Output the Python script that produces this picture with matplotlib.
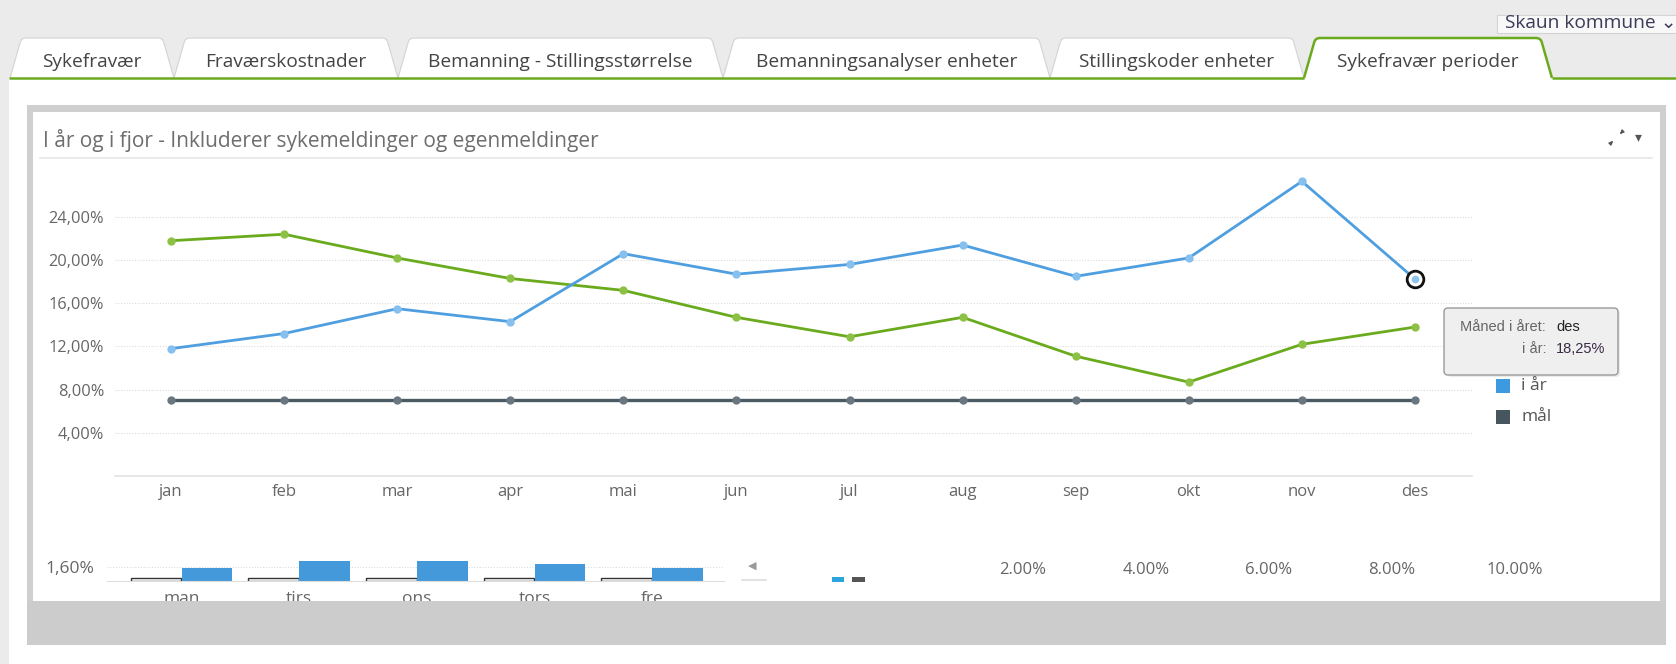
import numpy as np
import matplotlib
matplotlib.use("Agg")
import matplotlib.pyplot as plt
from matplotlib.patches import Rectangle, FancyBboxPatch, PathPatch
from matplotlib.path import Path

plt.rcParams["font.family"] = ["Open Sans", "DejaVu Sans"]

W, H = 1676, 664

# data
months = ["jan", "feb", "mar", "apr", "mai", "jun", "jul", "aug", "sep", "okt", "nov", "des"]
i_aar = [11.8, 13.2, 15.5, 14.3, 20.6, 18.7, 19.6, 21.4, 18.5, 20.2, 27.3, 18.25]
i_fjor = [21.8, 22.4, 20.2, 18.3, 17.2, 14.7, 12.9, 14.7, 11.1, 8.7, 12.2, 13.8]
maal = [7.0, 7.0, 7.0, 7.0, 7.0, 7.0, 7.0, 7.0, 7.0, 7.0, 7.0, 7.0]
y_ticks = [4, 8, 12, 16, 20, 24]

days = ["man", "tirs", "ons", "tors", "fre"]
days_fjor = [0.3, 0.3, 0.3, 0.3, 0.3]
days_aar = [1.48, 2.3, 2.3, 2.0, 1.48]
day_ticks = [1.6]

dist_ticks = [2, 4, 6, 8, 10]

tabs = ["Sykefravær", "Fraværskostnader", "Bemanning - Stillingsstørrelse",
        "Bemanningsanalyser enheter", "Stillingskoder enheter", "Sykefravær perioder"]
tab_edges = [10, 174, 398, 723, 1050, 1304, 1552]

BLUE = "#4f9fe0"
GREEN = "#6aab1e"
SLATE = "#4b5a63"
GREY_TXT = "#666666"


def pct(v, dec=","):
    return f"{v:.2f}%".replace(".", dec)


def px_axes(x0, y0, x1, y1, **kw):
    return fig.add_axes([x0 / W, 1 - y1 / H, (x1 - x0) / W, (y1 - y0) / H], **kw)


def tab_path(xl, xr, top=38, bot=78, s=11, r=5):
    verts = [(xl, bot), (xl + s - 1, top + r), (xl + s, top), (xl + s + r, top),
             (xr - s - r, top), (xr - s, top), (xr - s + 1, top + r), (xr, bot)]
    codes = [Path.MOVETO, Path.LINETO, Path.CURVE3, Path.CURVE3,
             Path.LINETO, Path.CURVE3, Path.CURVE3, Path.LINETO]
    return Path(verts, codes)


fig = plt.figure(figsize=(W / 100, H / 100), dpi=100)

# ---- page background, tabs, card
bg = px_axes(0, 0, W, H, zorder=-1)
bg.set_xlim(0, W)
bg.set_ylim(H, 0)
bg.axis("off")
bg.add_patch(Rectangle((0, 0), W, H, fc="white", ec="none"))
bg.add_patch(Rectangle((0, 0), W, 78, fc="#ebebeb", ec="none"))
bg.add_patch(Rectangle((0, 78), 9, H - 78, fc="#ebebeb", ec="none"))

# dropdown at the top right, its text cut at the top
box = Rectangle((1497, 15), 180, 18, fc="#f8f8f8", ec="#d4d4d4", lw=0.8)
bg.add_patch(box)
t = bg.text(1505, 28, "Skaun kommune \u2304", fontsize=13.8, color="#3b3b5a",
            va="baseline", clip_on=True)
t.set_clip_path(box)

for i, name in enumerate(tabs):
    xl, xr = tab_edges[i], tab_edges[i + 1]
    active = i == len(tabs) - 1
    bg.add_patch(PathPatch(tab_path(xl, xr), fc="white",
                           ec=GREEN if active else "#d6d6d6",
                           lw=1.8 if active else 0.9, zorder=3 if active else 2))
    bg.text((xl + xr) / 2, 62, name, fontsize=13.8, color="#444444",
            ha="center", va="center", zorder=4)
bg.plot([9, tab_edges[-2]], [78, 78], color=GREEN, lw=1.8, zorder=3, solid_capstyle="butt")
bg.plot([tab_edges[-1], W], [78, 78], color=GREEN, lw=1.8, zorder=3, solid_capstyle="butt")

bg.add_patch(Rectangle((27, 105), 1639, 540, fc="#cfcfcf", ec="none"))
bg.add_patch(Rectangle((33, 112), 1627, 489, fc="white", ec="none"))
bg.text(43, 141, "I år og i fjor - Inkluderer sykemeldinger og egenmeldinger",
        fontsize=15, color="#6e6e6e", va="center")
bg.plot([40, 1652], [158, 158], color="#e6e6e6", lw=1.2)
bg.annotate("", xy=(1615, 139), xytext=(1609, 145),
            arrowprops=dict(arrowstyle="-|>", color="#555555", lw=1, mutation_scale=5))
bg.annotate("", xy=(1618, 136), xytext=(1624, 130),
            arrowprops=dict(arrowstyle="-|>", color="#555555", lw=1, mutation_scale=5))
bg.text(1638, 138, "\u25be", fontsize=10, color="#555555", ha="center", va="center")

# ---- main line chart
ax = px_axes(114.5, 163, 1471.5, 476)
x = np.arange(len(months))
ax.plot(x, maal, color=SLATE, lw=2.4, marker="o", ms=6, mfc="#6b7780", mec="none", zorder=3)
ax.plot(x, i_fjor, color=GREEN, lw=2.0, marker="o", ms=6, mfc="#8cc145", mec="none", zorder=3)
ax.plot(x, i_aar, color=BLUE, lw=2.0, marker="o", ms=6, mfc="#86c0ee", mec="none", zorder=4)
ax.plot(x[-1], i_aar[-1], "o", ms=12, mfc="white", mec="#111111", mew=2.0, zorder=5)
ax.plot(x[-1], i_aar[-1], "o", ms=5.5, mfc="#8cc4ee", mec="none", zorder=6)
ax.set_xlim(-0.5, 11.5)
ax.set_ylim(0, 29)
ax.set_xticks(x)
ax.set_xticklabels(months)
ax.set_yticks(y_ticks)
ax.set_yticklabels([pct(v) for v in y_ticks])
ax.grid(axis="y", color="#dcdcdc", lw=0.8, ls=(0, (1, 1.5)))
ax.set_axisbelow(True)
for s in ["top", "right", "left"]:
    ax.spines[s].set_visible(False)
ax.spines["bottom"].set_color("#e3e3e3")
ax.spines["bottom"].set_linewidth(1.2)
ax.tick_params(axis="both", length=0, labelsize=11.8, labelcolor=GREY_TXT)
ax.tick_params(axis="y", pad=7.5)
ax.tick_params(axis="x", labelsize=12, pad=6)
ax.set_facecolor("none")

# ---- weekday bar chart (clipped by card bottom)
bx = px_axes(107, 560, 724, 581)
d = np.arange(len(days))
bx.bar(d - 0.217, days_fjor, width=0.43, color="white", edgecolor="#333333", lw=1.0)
bx.bar(d + 0.217, days_aar, width=0.43, color="#4499db", edgecolor="none")
bx.set_xlim(-0.634, 4.612)
bx.set_ylim(0, 2.45)
bx.set_xticks(d)
bx.set_xticklabels(days)
bx.set_yticks(day_ticks)
bx.set_yticklabels([pct(v) for v in day_ticks])
bx.grid(axis="y", color="#dcdcdc", lw=0.8, ls=(0, (1, 1.5)))
bx.set_axisbelow(True)
for s in ["top", "right", "left"]:
    bx.spines[s].set_visible(False)
bx.spines["bottom"].set_color("#dddddd")
bx.tick_params(axis="both", length=0, labelsize=12.5, labelcolor=GREY_TXT)
bx.tick_params(axis="y", pad=9.5)
bx.tick_params(axis="x", pad=7.5)
bx.set_facecolor("none")

bg.text(752, 566, "\u25c0", fontsize=8, color="#9a9a9a", ha="center", va="center")
bg.plot([742, 766], [580, 580], color="#dddddd", lw=1.2)
bg.add_patch(Rectangle((832, 577), 12, 5, fc="#2ba5de", ec="none"))
bg.add_patch(Rectangle((852, 577), 13, 5, fc="#555555", ec="none"))

# ---- distribution axis labels (only the top axis labels are visible)
dx = px_axes(900, 579, 1600, 600)
dx.set_xlim(0, 700 / 61.5)
dx.set_ylim(0, 1)
dx.set_xticks(dist_ticks)
dx.set_xticklabels([pct(v, ".") for v in dist_ticks])
dx.xaxis.set_ticks_position("top")
dx.tick_params(axis="x", length=0, labelsize=12, labelcolor=GREY_TXT, pad=1)
dx.set_yticks([])
for s in dx.spines.values():
    s.set_visible(False)
dx.set_facecolor("none")

# ---- overlay: card bottom band, legend, tooltip
ov = px_axes(0, 0, W, H, zorder=10)
ov.set_xlim(0, W)
ov.set_ylim(H, 0)
ov.axis("off")
ov.add_patch(Rectangle((27, 601), 1639, 44, fc="#cccccc", ec="none"))
ov.add_patch(Rectangle((9, 645), W - 9, 19, fc="white", ec="none"))

# legend entries visible below the tooltip
legend = [("i år", "#3d9ae0"), ("mål", "#47555f")]
for k, (lab, col) in enumerate(legend):
    yy = 386 + 31 * k
    ov.add_patch(Rectangle((1496, yy - 7), 14, 14, fc=col, ec="none", zorder=1))
    ov.text(1521, yy, lab, fontsize=12.5, color="#555555", va="center", zorder=1)

ov.add_patch(FancyBboxPatch((1447, 310), 173, 67, boxstyle="round,pad=0,rounding_size=4",
                            fc="#000000", ec="none", alpha=0.08, zorder=5))
ov.add_patch(FancyBboxPatch((1444, 308), 174, 67, boxstyle="round,pad=0,rounding_size=4",
                            fc="#efefef", ec="#9a9a9a", lw=1.0, zorder=5))
tip = dict(fontsize=10.5, family=["Liberation Sans", "DejaVu Sans"], va="center", zorder=6)
ov.text(1546, 327, "Måned i året:", ha="right", color="#666666", **tip)
ov.text(1556, 327, "des", ha="left", color="#222222", **tip)
ov.text(1546, 349, "i år:", ha="right", color="#666666", **tip)
ov.text(1556, 349, "18,25%", ha="left", color="#3a2a45", **tip)

fig.savefig("out.png", dpi=100)
